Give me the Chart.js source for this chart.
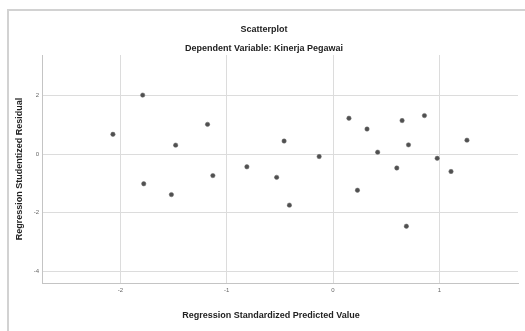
<!DOCTYPE html>
<html>
<head>
<meta charset="utf-8">
<script src="https://cdn.jsdelivr.net/npm/chart.js@4/dist/chart.umd.min.js"></script>
<style>
  body { margin: 0; background: #fff; }
  canvas { display: block; }
</style>
</head>
<body>
<canvas id="chart" width="525" height="331"></canvas>
<script>
// valores
const predicted = [-2.07, -1.79, -1.78, -1.52, -1.48, -1.18, -1.13, -0.81, -0.53, -0.46, -0.41, -0.13,
  0.15, 0.23, 0.32, 0.42, 0.60, 0.65, 0.69, 0.71, 0.86, 0.98, 1.11, 1.26];
const residual = [0.68, 2.02, -1.01, -1.38, 0.31, 1.02, -0.73, -0.43, -0.79, 0.45, -1.74, -0.08,
  1.23, -1.23, 0.86, 0.07, -0.47, 1.15, -2.46, 0.32, 1.32, -0.14, -0.59, 0.48];
const xTicks = [-2, -1, 0, 1];
const yTicks = [-4, -2, 0, 2];

const titulo = 'Scatterplot';
const subtitulo = 'Dependent Variable: Kinerja Pegawai';
const xTitulo = 'Regression Standardized Predicted Value';
const yTitulo = 'Regression Studentized Residual';

const fuente = 'Arial, "Liberation Sans", sans-serif';

const puntos = predicted.map((x, i) => ({ x, y: residual[i] }));

// marco gris del visor
const marco = {
  id: 'marco',
  beforeDraw(chart) {
    const ctx = chart.ctx;
    ctx.save();
    ctx.strokeStyle = '#d2d2d2';
    ctx.lineWidth = 2;
    ctx.strokeRect(8, 10, 560, 360);
    ctx.restore();
  }
};

// titulo del eje x
const tituloX = {
  id: 'tituloX',
  afterDraw(chart) {
    const ctx = chart.ctx;
    ctx.save();
    ctx.font = 'bold 9px ' + fuente;
    ctx.fillStyle = '#222';
    ctx.textAlign = 'center';
    ctx.textBaseline = 'middle';
    ctx.fillText(xTitulo, 271, 316);
    ctx.restore();
  }
};

new Chart(document.getElementById('chart'), {
  type: 'scatter',
  data: {
    datasets: [{
      data: puntos,
      backgroundColor: '#505050',
      borderColor: '#6a6a6a',
      borderWidth: 0.5,
      pointRadius: 2.2
    }]
  },
  options: {
    responsive: false,
    animation: false,
    devicePixelRatio: 1,
    layout: { padding: { left: 10, right: 7, top: 0, bottom: 0 } },
    plugins: {
      legend: { display: false },
      tooltip: { enabled: false },
      title: {
        display: true,
        text: titulo,
        color: '#222',
        font: { family: fuente, size: 9, weight: 'bold' },
        padding: { top: 24, bottom: 8 }
      },
      subtitle: {
        display: true,
        text: subtitulo,
        color: '#222',
        font: { family: fuente, size: 9, weight: 'bold' },
        padding: { top: 0, bottom: 1.4 }
      }
    },
    scales: {
      x: {
        type: 'linear',
        min: -2.737,
        max: 1.74,
        afterBuildTicks: s => { s.ticks = xTicks.map(v => ({ value: v })); },
        afterFit: s => { s.height = 48; },
        grid: { color: '#dcdcdc', drawTicks: false },
        border: { color: '#c4c4c4' },
        ticks: { color: '#666', padding: 4, font: { family: fuente, size: 6 } }
      },
      y: {
        min: -4.4,
        max: 3.39,
        afterBuildTicks: s => { s.ticks = yTicks.map(v => ({ value: v })); },
        afterFit: s => { s.width = 32; },
        grid: { color: '#dcdcdc', drawTicks: false },
        border: { color: '#c4c4c4' },
        ticks: { color: '#666', padding: 3, font: { family: fuente, size: 6 } },
        title: {
          display: true,
          text: yTitulo,
          color: '#222',
          font: { family: fuente, size: 9, weight: 'bold' },
          padding: { top: 4.6, bottom: 0 }
        }
      }
    }
  },
  plugins: [marco, tituloX]
});
</script>
</body>
</html>
